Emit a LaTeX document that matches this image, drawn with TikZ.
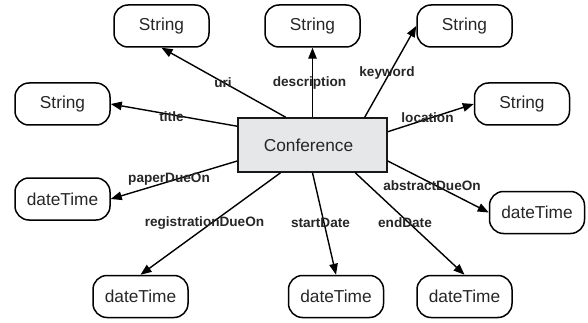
\documentclass[tikz,border=0pt]{standalone}
\usepackage{fontspec}
\setmainfont{Liberation Sans}
\usetikzlibrary{arrows.meta}
\definecolor{txt}{HTML}{262626}
\definecolor{clsfill}{HTML}{E6E7E8}
\tikzset{
  val/.style={draw=black, line width=1.5pt, rounded corners=14pt, minimum width=95pt, minimum height=42pt, inner sep=0pt, text=txt, font=\fontsize{17.3}{20}\selectfont},
  cls/.style={draw=black!90, line width=1.5pt, fill=clsfill, minimum width=149pt, minimum height=54pt, inner sep=0pt, text=txt, font=\fontsize{17.3}{20}\selectfont},
  rel/.style={draw=black, line width=1.4pt, -{Triangle[length=11pt,width=8.5pt]}},
  lab/.style={font=\fontsize{13.6}{15}\selectfont\bfseries, text=txt, inner sep=0pt}
}
\begin{document}
\begin{tikzpicture}[x=1pt,y=-1pt]
\useasboundingbox (0,0) rectangle (588,323);
\node[cls] (conf) at (312.5,145) {\hspace*{-8pt}Conference};
\node[val] (uri) at (161.5,26) {String};
\node[val] (desc) at (312.5,26) {String};
\node[val] (kw) at (464.5,26) {String};
\node[val] (title) at (62.5,104) {String};
\node[val] (loc) at (522,104) {String};
\node[val] (pdo) at (62.5,199) {dateTime};
\node[val] (reg) at (140.5,296.5) {dateTime};
\node[val] (sd) at (336,296.5) {dateTime};
\node[val] (ed) at (464.5,296.5) {dateTime};
\node[val] (ado) at (537,212.5) {dateTime};
\draw[rel] (conf.134.5) -- (uri.south);
\draw[rel] (conf.north) -- (desc.south);
\draw[rel] (conf.28.1) -- (kw.west);
\draw[rel] (conf.166.4) -- (title.east);
\draw[rel] (conf.10.6) -- (loc.west);
\draw[rel] (conf.192.1) -- (pdo.east);
\draw[rel] (conf.221.5) -- (reg.north);
\draw[rel] (conf.south) -- (sd.north);
\draw[rel] (conf.327) -- (ed.north);
\draw[rel] (conf.348.6) -- (ado.west);
\node[lab] (luri) at (223,83) {uri};
\node[lab] (ldesc) at (309.5,83) {description};
\node[lab] (lkw) at (387,73) {keyword};
\node[lab] (ltitle) at (171.5,117) {title};
\node[lab] (lloc) at (427.5,118) {location};
\node[lab] (lpdo) at (169,179) {paperDueOn};
\node[lab] (lreg) at (204.5,223) {registrationDueOn};
\node[lab] (lsd) at (320.5,223) {startDate};
\node[lab] (led) at (405,223) {endDate};
\node[lab] (lado) at (432,186) {abstractDueOn};
\end{tikzpicture}
\end{document}
